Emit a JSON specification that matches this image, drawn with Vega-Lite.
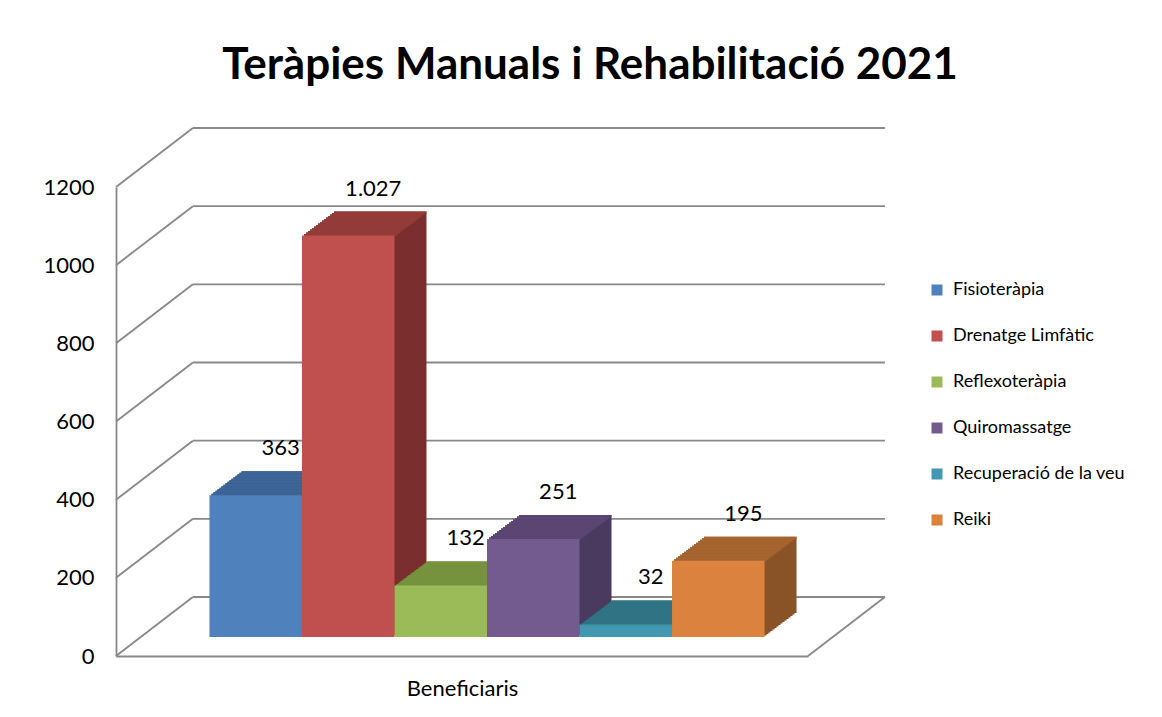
{
  "$schema": "https://vega.github.io/schema/vega-lite/v6.json",
  "width": 692,
  "height": 469,
  "autosize": {"type": "none"},
  "padding": {"left": 116, "top": 187, "right": 354, "bottom": 61},
  "background": "white",
  "title": {
    "text": "Teràpies Manuals i Rehabilitació 2021",
    "font": "Lato", "fontSize": 44, "fontWeight": "bold", "color": "black",
    "anchor": "middle", "frame": "group", "dx": 128, "baseline": "alphabetic", "offset": 4
  },
  "datasets": {
    "bars": [
      {"terapia": "Fisioteràpia", "value": 363},
      {"terapia": "Drenatge Limfàtic", "value": 1027},
      {"terapia": "Reflexoteràpia", "value": 132},
      {"terapia": "Quiromassatge", "value": 251},
      {"terapia": "Recuperació de la veu", "value": 32},
      {"terapia": "Reiki", "value": 195}
    ],
    "grid": [
      {"value": 0}, {"value": 200}, {"value": 400}, {"value": 600},
      {"value": 800}, {"value": 1000}, {"value": 1200}
    ],
    "floor": [{"value": 0}]
  },
  "encoding": {
    "y": {
      "field": "value", "type": "quantitative",
      "scale": {"domain": [0, 1200], "nice": false},
      "axis": {"format": "d", "values": [0, 200, 400, 600, 800, 1000, 1200]},
      "title": null
    }
  },
  "layer": [
    {
      "data": {"name": "grid"},
      "mark": {"type": "rule", "color": "#888888", "strokeWidth": 1.8, "yOffset": -59},
      "encoding": {
        "x": {"datum": 1, "type": "quantitative", "scale": {"domain": [0, 9]}, "axis": null},
        "x2": {"datum": 10}
      }
    },
    {
      "data": {"name": "grid"},
      "mark": {"type": "rule", "color": "#888888", "strokeWidth": 1.8, "y2Offset": -59},
      "encoding": {
        "x": {"datum": 0, "type": "quantitative", "scale": {"domain": [0, 9]}, "axis": null},
        "x2": {"datum": 1},
        "y2": {"field": "value"}
      }
    },
    {
      "data": {"name": "floor"},
      "mark": {"type": "rule", "color": "#888888", "strokeWidth": 1.8, "y2Offset": -59},
      "encoding": {
        "x": {"datum": 9, "type": "quantitative", "scale": {"domain": [0, 9]}, "axis": null},
        "x2": {"datum": 10},
        "y2": {"field": "value"}
      }
    },
    {
      "data": {"name": "bars"},
      "encoding": {
        "x": {
          "field": "terapia", "type": "nominal", "sort": null,
          "scale": {"paddingInner": 0, "paddingOuter": 0.74},
          "title": "Beneficiaris"
        }
      },
      "layer": [
        {
          "encoding": {
            "color": {
              "field": "terapia", "type": "nominal", "sort": null, "legend": null,
              "scale": {
                "domain": ["Fisioteràpia", "Drenatge Limfàtic", "Reflexoteràpia", "Quiromassatge", "Recuperació de la veu", "Reiki"],
                "range": ["#2F4E74", "#7A2F2E", "#5E752F", "#4A3A5E", "#275F6E", "#8A5227"]
              }
            }
          },
          "layer": [
            {"mark": {"type": "bar", "xOffset": 57, "yOffset": -43, "y2Offset": -43}},
            {"mark": {"type": "bar", "xOffset": 55, "yOffset": -41.5, "y2Offset": -41.5}},
            {"mark": {"type": "bar", "xOffset": 53, "yOffset": -40, "y2Offset": -40}},
            {"mark": {"type": "bar", "xOffset": 51, "yOffset": -38.5, "y2Offset": -38.5}},
            {"mark": {"type": "bar", "xOffset": 49, "yOffset": -37, "y2Offset": -37}},
            {"mark": {"type": "bar", "xOffset": 47, "yOffset": -35.5, "y2Offset": -35.5}},
            {"mark": {"type": "bar", "xOffset": 45, "yOffset": -34, "y2Offset": -34}},
            {"mark": {"type": "bar", "xOffset": 43, "yOffset": -32.5, "y2Offset": -32.5}},
            {"mark": {"type": "bar", "xOffset": 41, "yOffset": -31, "y2Offset": -31}},
            {"mark": {"type": "bar", "xOffset": 39, "yOffset": -29.5, "y2Offset": -29.5}},
            {"mark": {"type": "bar", "xOffset": 37, "yOffset": -28, "y2Offset": -28}},
            {"mark": {"type": "bar", "xOffset": 35, "yOffset": -26.5, "y2Offset": -26.5}},
            {"mark": {"type": "bar", "xOffset": 33, "yOffset": -25, "y2Offset": -25}},
            {"mark": {"type": "bar", "xOffset": 31, "yOffset": -23.5, "y2Offset": -23.5}},
            {"mark": {"type": "bar", "xOffset": 29, "yOffset": -22, "y2Offset": -22}},
            {"mark": {"type": "bar", "xOffset": 27, "yOffset": -20.5, "y2Offset": -20.5}}
          ]
        },
        {
          "encoding": {
            "y2": {"field": "value"},
            "color": {
              "field": "terapia", "type": "nominal", "sort": null, "legend": null,
              "scale": {
                "domain": ["Fisioteràpia", "Drenatge Limfàtic", "Reflexoteràpia", "Quiromassatge", "Recuperació de la veu", "Reiki"],
                "range": ["#3D6597", "#923B39", "#76923C", "#5A4573", "#2F7384", "#A6642F"]
              }
            }
          },
          "layer": [
            {"mark": {"type": "bar", "xOffset": 57, "yOffset": -43, "y2Offset": -41}},
            {"mark": {"type": "bar", "xOffset": 55, "yOffset": -41.5, "y2Offset": -39.5}},
            {"mark": {"type": "bar", "xOffset": 53, "yOffset": -40, "y2Offset": -38}},
            {"mark": {"type": "bar", "xOffset": 51, "yOffset": -38.5, "y2Offset": -36.5}},
            {"mark": {"type": "bar", "xOffset": 49, "yOffset": -37, "y2Offset": -35}},
            {"mark": {"type": "bar", "xOffset": 47, "yOffset": -35.5, "y2Offset": -33.5}},
            {"mark": {"type": "bar", "xOffset": 45, "yOffset": -34, "y2Offset": -32}},
            {"mark": {"type": "bar", "xOffset": 43, "yOffset": -32.5, "y2Offset": -30.5}},
            {"mark": {"type": "bar", "xOffset": 41, "yOffset": -31, "y2Offset": -29}},
            {"mark": {"type": "bar", "xOffset": 39, "yOffset": -29.5, "y2Offset": -27.5}},
            {"mark": {"type": "bar", "xOffset": 37, "yOffset": -28, "y2Offset": -26}},
            {"mark": {"type": "bar", "xOffset": 35, "yOffset": -26.5, "y2Offset": -24.5}},
            {"mark": {"type": "bar", "xOffset": 33, "yOffset": -25, "y2Offset": -23}},
            {"mark": {"type": "bar", "xOffset": 31, "yOffset": -23.5, "y2Offset": -21.5}},
            {"mark": {"type": "bar", "xOffset": 29, "yOffset": -22, "y2Offset": -20}},
            {"mark": {"type": "bar", "xOffset": 27, "yOffset": -20.5, "y2Offset": -18.5}}
          ]
        },
        {
          "mark": {"type": "bar", "xOffset": 25, "yOffset": -19, "y2Offset": -19},
          "encoding": {
            "color": {
              "field": "terapia", "type": "nominal", "sort": null,
              "legend": {"title": null},
              "scale": {
                "domain": ["Fisioteràpia", "Drenatge Limfàtic", "Reflexoteràpia", "Quiromassatge", "Recuperació de la veu", "Reiki"],
                "range": ["#4F81BD", "#C0504D", "#9BBB59", "#735A8F", "#4298B0", "#DB823E"]
              }
            }
          }
        },
        {
          "mark": {"type": "text", "font": "Lato", "fontSize": 22, "color": "black", "dx": 50, "dy": -66, "baseline": "middle", "align": "center"},
          "encoding": {
            "text": {"field": "value", "type": "quantitative", "format": ",d"}
          }
        }
      ],
      "resolve": {"scale": {"color": "independent"}}
    }
  ],
  "resolve": {"scale": {"x": "independent"}},
  "config": {
    "font": "Lato",
    "locale": {"number": {"decimal": ",", "thousands": ".", "grouping": [3], "currency": ["", " €"]}},
    "view": {"stroke": null},
    "axisY": {
      "labelFont": "Lato", "labelFontSize": 22, "labelColor": "black", "labelPadding": 22,
      "ticks": false, "grid": false, "domain": true, "domainColor": "#888888", "domainWidth": 1.8
    },
    "axisX": {
      "labels": false, "ticks": false, "grid": false, "domain": true,
      "domainColor": "#888888", "domainWidth": 1.8,
      "titleFont": "Lato", "titleFontSize": 22, "titleFontWeight": "normal", "titleColor": "black", "titlePadding": 22
    },
    "legend": {
      "orient": "none", "legendX": 812, "legendY": 94, "padding": 0,
      "labelFont": "Lato", "labelFontSize": 18, "labelColor": "black", "labelOffset": 7, "labelLimit": 400,
      "symbolType": "square", "symbolSize": 121, "symbolStrokeWidth": 0, "rowPadding": 28
    }
  }
}
